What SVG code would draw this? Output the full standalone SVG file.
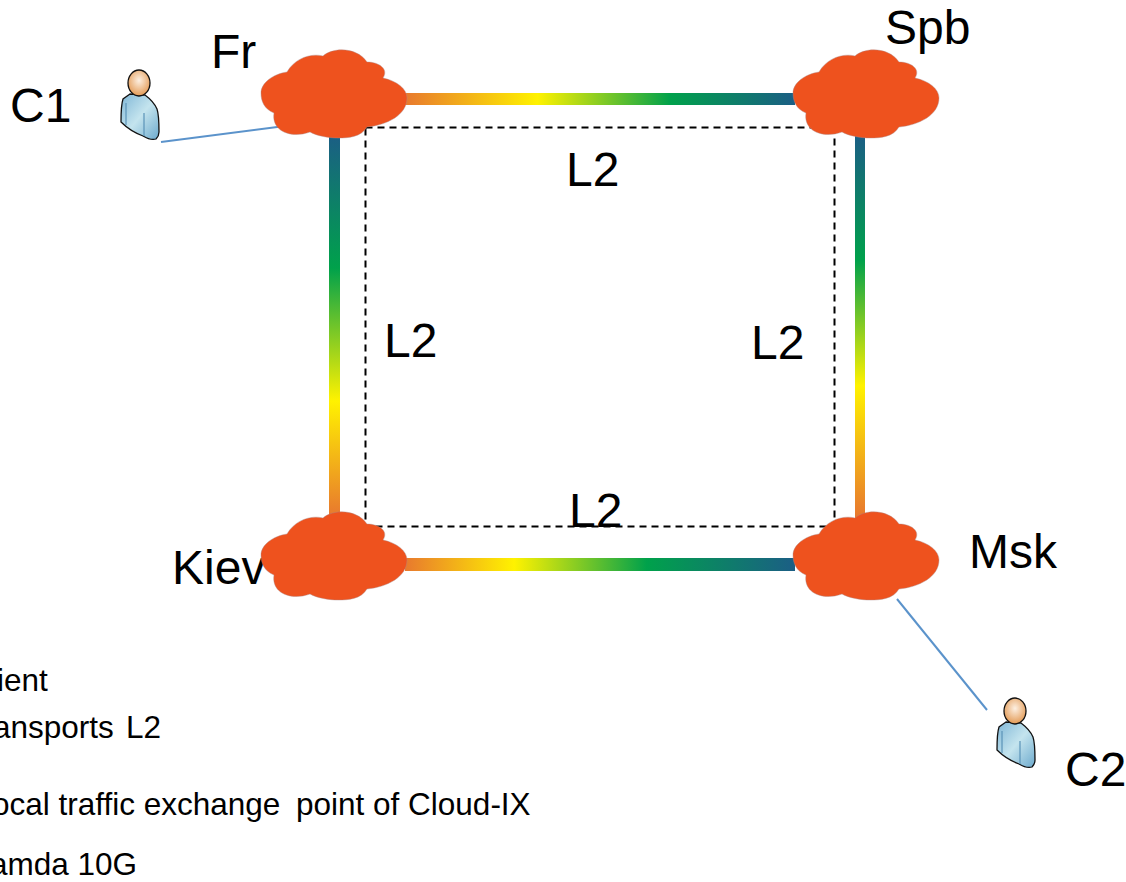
<svg xmlns="http://www.w3.org/2000/svg" xmlns:xlink="http://www.w3.org/1999/xlink" width="1126" height="882" viewBox="0 0 1126 882">
<style>
text{font-family:"Liberation Sans",Arial,sans-serif;fill:#000}
.big{font-size:48px}
.leg{font-size:31.500px}
.cloud{fill:#ee521e;stroke:#a88;stroke-width:.6;stroke-opacity:.7}
.link{fill:none;stroke:#5b93cb;stroke-width:2}
.dash{fill:none;stroke:#000;stroke-width:2;stroke-dasharray:7 5}
</style>
<defs>
<linearGradient id="gt" gradientUnits="userSpaceOnUse" x1="405" y1="0" x2="795" y2="0"><stop offset="0" stop-color="#e8792e"/><stop offset=".34" stop-color="#fff200"/><stop offset=".68" stop-color="#00a14b"/><stop offset="1" stop-color="#1b5e85"/></linearGradient>
<linearGradient id="gb" gradientUnits="userSpaceOnUse" x1="405" y1="0" x2="795" y2="0"><stop offset="0" stop-color="#e8792e"/><stop offset=".28" stop-color="#fff200"/><stop offset=".62" stop-color="#00a14b"/><stop offset="1" stop-color="#1b5e85"/></linearGradient>
<linearGradient id="gl" gradientUnits="userSpaceOnUse" x1="0" y1="515" x2="0" y2="135"><stop offset="0" stop-color="#e8792e"/><stop offset=".3" stop-color="#fff200"/><stop offset=".65" stop-color="#00a14b"/><stop offset="1" stop-color="#1b5e85"/></linearGradient>
<linearGradient id="gr" gradientUnits="userSpaceOnUse" x1="0" y1="515" x2="0" y2="135"><stop offset="0" stop-color="#e8792e"/><stop offset=".34" stop-color="#fff200"/><stop offset=".67" stop-color="#00a14b"/><stop offset="1" stop-color="#1b5e85"/></linearGradient>
<radialGradient id="head" cx=".5" cy=".4" r=".6"><stop offset="0" stop-color="#fdf0e2"/><stop offset="1" stop-color="#e39a55"/></radialGradient>
<linearGradient id="body" x1="0" y1="0" x2="1" y2="1"><stop offset="0" stop-color="#7fb6d6"/><stop offset=".5" stop-color="#c4e4ee"/><stop offset="1" stop-color="#6daacd"/></linearGradient>
<symbol id="cloud" overflow="visible"><path class="cloud" d="M13 64C3 60 0 52 0 44C0 34 12 25 26 23C34 9 50 4 62 7C72-2 96-2 106 13C118 13 128 20 122 29C136 32 146 40 146 49C146 66 126 76 106 78C100 88 88 89 77 89C68 89 56 87 49 83C30 90 10 82 13 64Z"/></symbol>
<symbol id="person" overflow="visible">
<path d="M-9 11L-16 16C-18 22-18 32-18 39C-12 45-4 50 4 53C9 56 14 57 17 56C19 54 20 52 20 49C20 40 20 32 18 26C15 19 10 15 6 12Z" fill="url(#body)" stroke="#111" stroke-width="1.3"/>
<path d="M-13 20V42M5 30V53" stroke="#5b93b8" stroke-width="1.2" fill="none"/>
<ellipse cx="0" cy="0" rx="11" ry="13" fill="url(#head)" stroke="#111" stroke-width="1.3"/>
</symbol>
</defs>
<g id="connectors">
<rect x="405" y="93" width="390" height="12" fill="url(#gt)"/>
<rect x="405" y="558" width="390" height="13" fill="url(#gb)"/>
<rect x="329" y="130" width="11" height="390" fill="url(#gl)"/>
<rect x="855" y="130" width="10" height="390" fill="url(#gr)"/>
<rect class="dash" x="365.500" y="127.500" width="469" height="399"/>
<line class="link" x1="161" y1="142" x2="285" y2="126"/>
<line class="link" x1="897" y1="599" x2="987" y2="710"/>
</g>
<g id="node-fr"><use href="#cloud" x="261" y="49"/><text class="big" x="211" y="68">Fr</text></g>
<g id="node-spb"><use href="#cloud" x="793" y="49"/><text class="big" x="885" y="44">Spb</text></g>
<g id="node-kiev"><text class="big" x="172" y="584">Kiev</text><use href="#cloud" x="261" y="511"/></g>
<g id="node-msk"><use href="#cloud" x="793" y="511"/><text class="big" x="969" y="568">Msk</text></g>
<g id="node-c1"><use href="#person" x="139" y="83"/><text class="big" x="10" y="122">C1</text></g>
<g id="node-c2"><use href="#person" x="1015" y="711"/><text class="big" x="1065" y="786">C2</text></g>
<g id="labels">
<text class="big" x="566" y="186">L2</text>
<text class="big" x="384" y="357">L2</text>
<text class="big" x="751" y="359">L2</text>
<text class="big" x="569" y="527">L2</text>
</g>
<g id="legend">
<text class="leg" x="-3" y="691">ient</text>
<text class="leg" x="-7" y="738">ansports<tspan x="126">L2</tspan></text>
<text class="leg" x="-8" y="815">ocal traffic exchange<tspan x="296">point of Cloud-IX</tspan></text>
<text class="leg" x="-10" y="875">amda 10G</text>
</g>
</svg>
